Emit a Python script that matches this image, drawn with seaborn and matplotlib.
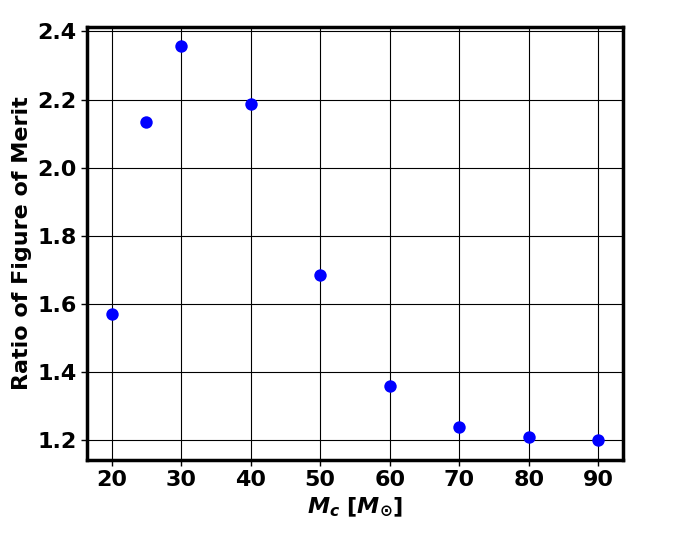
import matplotlib
matplotlib.use('Agg')
import matplotlib.pyplot as plt
import seaborn as sns
import pandas as pd

# Chirp mass values and figure-of-merit ratios
mc = [20, 25, 30, 40, 50, 60, 70, 80, 90]
fom_ratio = [1.570, 2.133, 2.356, 2.186, 1.684, 1.358, 1.238, 1.209, 1.200]

df = pd.DataFrame({'Mc': mc, 'ratio': fom_ratio})

sns.set_style('ticks')
plt.rcParams['font.family'] = ['DejaVu Sans']
plt.rcParams['font.weight'] = 'bold'
plt.rcParams['text.color'] = 'black'
plt.rcParams['axes.labelcolor'] = 'black'
plt.rcParams['xtick.color'] = 'black'
plt.rcParams['ytick.color'] = 'black'

fig, ax = plt.subplots(figsize=(6.92, 5.33), dpi=100)
sns.scatterplot(data=df, x='Mc', y='ratio', ax=ax, color='blue', s=80,
                edgecolor='blue', linewidth=0, zorder=3)

ax.grid(True, color='black', linewidth=0.8)
ax.set_axisbelow(True)
for sp in ax.spines.values():
    sp.set_visible(True)
    sp.set_linewidth(2.5)
    sp.set_color('black')

ax.set_xticks([20, 30, 40, 50, 60, 70, 80, 90])
ax.set_yticks([1.2, 1.4, 1.6, 1.8, 2.0, 2.2, 2.4])
ax.tick_params(axis='both', labelsize=16, direction='out', length=4, width=1,
               colors='black')
for lbl in ax.get_xticklabels() + ax.get_yticklabels():
    lbl.set_fontweight('bold')

ax.set_xlabel(r'$\boldsymbol{M_c}$ $\mathbf{[}\boldsymbol{M_{\odot}}\mathbf{]}$',
              fontsize=16, fontweight='bold', color='black')
ax.set_ylabel('Ratio of Figure of Merit', fontsize=16, fontweight='bold',
              color='black')

fig.subplots_adjust(left=0.126, right=0.9, top=0.95, bottom=0.137)
fig.savefig('out.png', dpi=100)
